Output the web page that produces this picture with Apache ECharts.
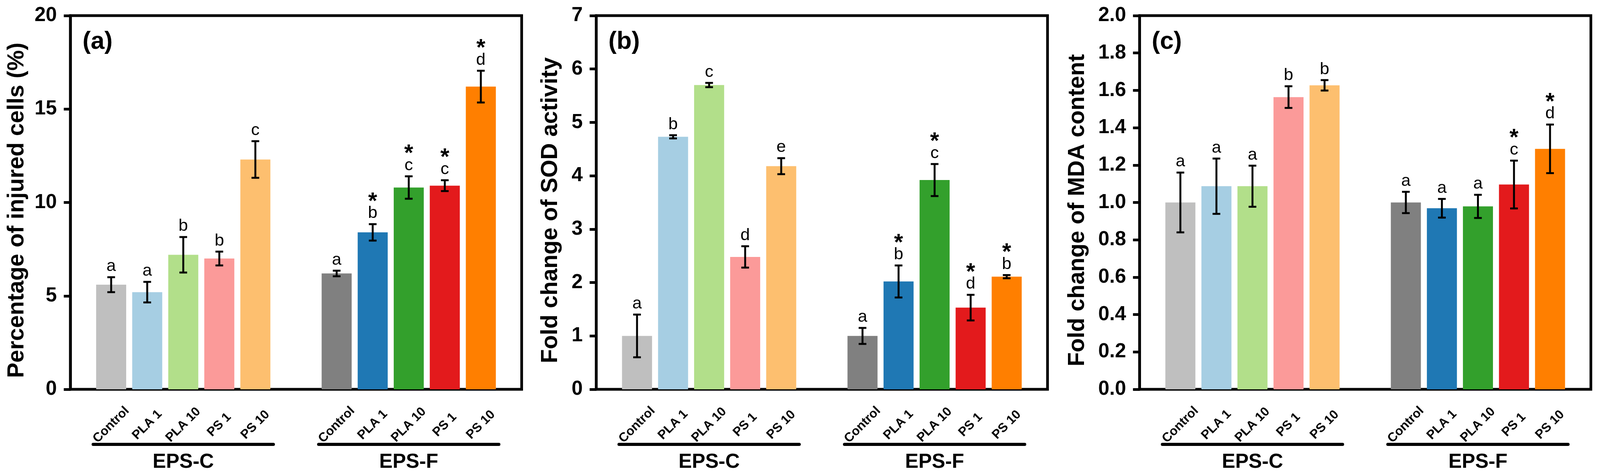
<!DOCTYPE html>
<html>
<head>
<meta charset="utf-8">
<script src="https://cdn.jsdelivr.net/npm/echarts@6/dist/echarts.min.js"></script>
<style>
  html, body { margin: 0; padding: 0; background: #fff; overflow: hidden; }
  #chart { width: 100vw; height: 100vh; }
</style>
</head>
<body>
<div id="chart"></div>
<script>
(function () {
  "use strict";
  const chart = echarts.init(document.getElementById("chart"));
  const FONT = "'Liberation Sans', Arial, sans-serif";

  const CATS = ["Control", "PLA 1", "PLA 10", "PS 1", "PS 10"];
  const GROUPS = ["EPS-C", "EPS-F"];
  const COLORS_C = ["#BFBFBF", "#A6CEE3", "#B2DF8A", "#FB9A99", "#FDBF6F"];
  const COLORS_F = ["#808080", "#1F78B4", "#33A02C", "#E31A1C", "#FF7F00"];

  // (a) injured cells
  const A_C_MEAN = [5.6, 5.2, 7.2, 7.0, 12.3];
  const A_C_ERR = [0.4, 0.55, 0.95, 0.37, 0.98];
  const A_C_LET = ["a", "a", "b", "b", "c"];
  const A_C_STAR = [0, 0, 0, 0, 0];
  const A_F_MEAN = [6.2, 8.4, 10.8, 10.9, 16.2];
  const A_F_ERR = [0.15, 0.44, 0.6, 0.29, 0.85];
  const A_F_LET = ["a", "b", "c", "c", "d"];
  const A_F_STAR = [0, 1, 1, 1, 1];

  // (b) SOD activity
  const B_C_MEAN = [1.0, 4.73, 5.70, 2.48, 4.18];
  const B_C_ERR = [0.4, 0.03, 0.04, 0.2, 0.15];
  const B_C_LET = ["a", "b", "c", "d", "e"];
  const B_C_STAR = [0, 0, 0, 0, 0];
  const B_F_MEAN = [1.0, 2.02, 3.92, 1.53, 2.11];
  const B_F_ERR = [0.15, 0.3, 0.3, 0.24, 0.03];
  const B_F_LET = ["a", "b", "c", "d", "b"];
  const B_F_STAR = [0, 1, 1, 1, 1];

  // (c) MDA content
  const C_C_MEAN = [1.0, 1.087, 1.087, 1.564, 1.627];
  const C_C_ERR = [0.16, 0.148, 0.11, 0.058, 0.028];
  const C_C_LET = ["a", "a", "a", "b", "b"];
  const C_C_STAR = [0, 0, 0, 0, 0];
  const C_F_MEAN = [1.0, 0.969, 0.979, 1.096, 1.287];
  const C_F_ERR = [0.057, 0.05, 0.062, 0.128, 0.13];
  const C_F_LET = ["a", "a", "a", "c", "d"];
  const C_F_STAR = [0, 0, 0, 1, 1];

  const panels = [
    { tag: "(a)", name: "Percentage of injured cells (%)", max: 20, interval: 5, dec: 0,
      left: 185, nameGap: 110,
      groups: [[A_C_MEAN, A_C_ERR, A_C_LET, A_C_STAR], [A_F_MEAN, A_F_ERR, A_F_LET, A_F_STAR]] },
    { tag: "(b)", name: "Fold change of SOD activity", max: 7, interval: 1, dec: 0,
      left: 1568, nameGap: 89,
      groups: [[B_C_MEAN, B_C_ERR, B_C_LET, B_C_STAR], [B_F_MEAN, B_F_ERR, B_F_LET, B_F_STAR]] },
    { tag: "(c)", name: "Fold change of MDA content", max: 2, interval: 0.2, dec: 1,
      left: 2997, nameGap: 133,
      groups: [[C_C_MEAN, C_C_ERR, C_C_LET, C_C_STAR], [C_F_MEAN, C_F_ERR, C_F_LET, C_F_STAR]] },
  ];
  const GROUP_OFF = [60, 653];

  // layout is laid out for a 4208x1219 frame and scaled to the real viewport
  function build() {
    const W = chart.getWidth(), H = chart.getHeight();
    const sx = W / 4208, sy = H / 1219, s = (sx + sy) / 2;
    const X = (v) => v * sx, Y = (v) => v * sy, S = (v) => v * s;
    const grid = [], xAxis = [], yAxis = [], series = [], graphic = [];

    function errorSeries(xi, yi, mean, err, letters, stars) {
      return {
        type: "custom", xAxisIndex: xi, yAxisIndex: yi, silent: true, z: 5,
        encode: { x: 0, y: 1 },
        data: mean.map((m, i) => [i, m, err[i]]),
        renderItem(params, api) {
          const i = api.value(0), m = api.value(1), e = api.value(2);
          const hi = api.coord([i, m + e]);
          const lo = api.coord([i, m - e]);
          const x = hi[0];
          const ls = { stroke: "#000", lineWidth: S(5) };
          const kids = [
            { type: "line", shape: { x1: x, y1: hi[1], x2: x, y2: lo[1] }, style: ls },
            { type: "line", shape: { x1: x - S(10), y1: hi[1], x2: x + S(10), y2: hi[1] }, style: ls },
            { type: "line", shape: { x1: x - S(10), y1: lo[1], x2: x + S(10), y2: lo[1] }, style: ls },
            { type: "text", x: x, y: hi[1] - Y(6),
              style: { text: letters[params.dataIndex], fill: "#000", fontSize: S(44), fontFamily: FONT,
                       align: "center", verticalAlign: "bottom" } },
          ];
          if (stars[params.dataIndex]) {
            kids.push({ type: "text", x: x, y: hi[1] - Y(27),
              style: { text: "*", fill: "#000", fontSize: S(60), fontWeight: "bold", fontFamily: FONT,
                       align: "center", verticalAlign: "bottom" } });
          }
          return { type: "group", children: kids };
        },
      };
    }

    panels.forEach((p) => {
      const fg = grid.length;
      grid.push({ left: X(p.left), top: Y(40), width: X(1187), height: Y(957), show: true,
        borderColor: "#000", borderWidth: S(7), outerBoundsMode: "none" });
      xAxis.push({ gridIndex: fg, type: "value", show: false, min: 0, max: 1 });
      yAxis.push({
        gridIndex: fg, type: "value", min: 0, max: p.max, interval: p.interval,
        axisLine: { show: true, lineStyle: { color: "#000", width: S(7) } },
        axisTick: { show: true, length: S(17), lineStyle: { color: "#000", width: S(7) } },
        splitLine: { show: false },
        axisLabel: { color: "#000", fontSize: S(52), fontWeight: "bold", fontFamily: FONT, margin: S(35),
          formatter: (v) => (+v).toFixed(p.dec) },
        name: p.name, nameLocation: "middle", nameGap: X(p.nameGap),
        nameTextStyle: { color: "#000", fontSize: Y(59), fontWeight: "bold", fontFamily: FONT, padding: [0, Y(40), 0, 0] },
      });
      graphic.push({ type: "text", x: X(p.left + 32), y: Y(76),
        style: { text: p.tag, fill: "#000", fontSize: S(64), fontWeight: "bold", fontFamily: FONT, verticalAlign: "top" } });

      p.groups.forEach(([mean, err, letters, stars], g) => {
        const gi = grid.length;
        grid.push({ left: X(p.left + GROUP_OFF[g]), top: Y(40), width: X(474), height: Y(957), outerBoundsMode: "none" });
        const xi = xAxis.length;
        xAxis.push({
          gridIndex: gi, type: "category", data: CATS,
          axisLine: { show: false }, axisTick: { show: false },
          axisLabel: { interval: 0, rotate: 45, align: "center", verticalAlign: "middle", margin: Y(91),
            color: "#000", fontSize: S(33), fontWeight: "bold", fontFamily: FONT },
        });
        xAxis.push({
          gridIndex: gi, type: "category", data: CATS, position: "bottom", offset: Y(141),
          axisLine: { show: true, lineStyle: { color: "#000", width: S(8) } },
          axisTick: { show: false }, axisLabel: { show: false },
          name: GROUPS[g], nameLocation: "middle", nameGap: Y(20),
          nameTextStyle: { color: "#000", fontSize: S(52), fontWeight: "bold", fontFamily: FONT },
        });
        const yi = yAxis.length;
        yAxis.push({ gridIndex: gi, type: "value", min: 0, max: p.max, show: false });
        const colors = g === 0 ? COLORS_C : COLORS_F;
        series.push({
          type: "bar", xAxisIndex: xi, yAxisIndex: yi, barWidth: X(79), silent: true,
          data: mean.map((v, i) => ({ value: v, itemStyle: { color: colors[i] } })),
        });
        series.push(errorSeries(xi, yi, mean, err, letters, stars));
      });
    });

    chart.setOption({ animation: false, backgroundColor: "#fff", grid, xAxis, yAxis, series, graphic }, true);
  }

  build();
  window.addEventListener("resize", () => { chart.resize(); build(); });
})();
</script>
</body>
</html>
